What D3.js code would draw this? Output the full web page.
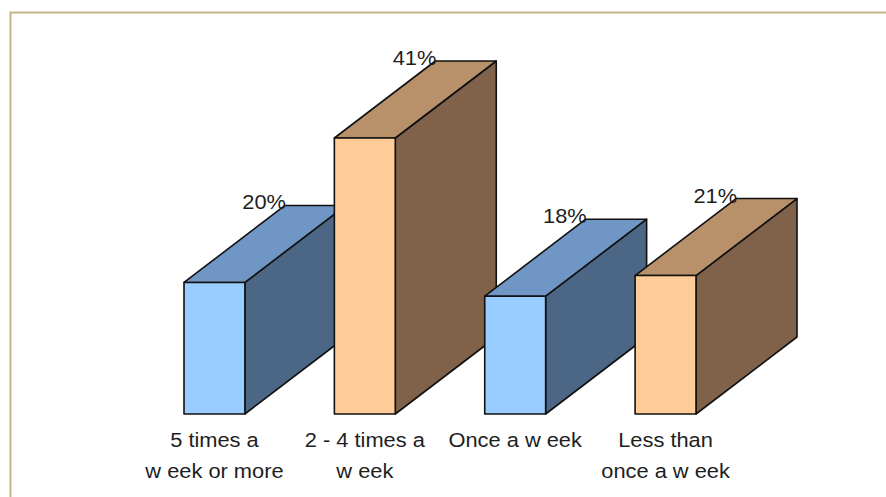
<!DOCTYPE html>
<html>
<head>
<meta charset="utf-8">
<script src="https://cdn.jsdelivr.net/npm/d3@7"></script>
<style>
  html, body { margin: 0; padding: 0; background: #ffffff; }
  svg { display: block; }
</style>
</head>
<body>
<svg id="chart" width="886" height="497"></svg>
<script>
// Survey: how often respondents do it
const categories = ["5 times a week or more", "2 - 4 times a week", "Once a week", "Less than once a week"];
const labelLines = [["5 times a", "w eek or more"], ["2 - 4 times a", "w eek"], ["Once a w eek"], ["Less than", "once a w eek"]];
const values = [20, 41, 18, 21];
const valueLabels = ["20%", "41%", "18%", "21%"];

// face colours per bar: front, top, side
const palettes = [
  { front: "#99ccff", top: "#6f96c4", side: "#4c6785" },
  { front: "#ffcc99", top: "#b8916a", side: "#806149" },
  { front: "#99ccff", top: "#6f96c4", side: "#4c6785" },
  { front: "#ffcc99", top: "#b8916a", side: "#806149" }
];

const svg = d3.select("#chart");

// frame
svg.append("path")
  .attr("d", "M10.5,497 L10.5,12.5 L886,12.5")
  .attr("fill", "none")
  .attr("stroke", "#c9b38a")
  .attr("stroke-width", 2);

const x = d3.scaleBand()
  .domain(categories)
  .range([184, 696])
  .paddingInner(0.595)
  .paddingOuter(0);

// the floor of the boxes sits slightly above the value axis origin
const floorY = 414;
const y = d3.scaleLinear()
  .domain([0, 41])
  .range([420, 138]);

// oblique depth of each box
const depthX = 101, depthY = -77;
const stretch = 1.12;

const bars = svg.append("g");

categories.forEach((c, i) => {
  const x0 = x(c), x1 = x(c) + x.bandwidth();
  const y0 = floorY, y1 = y(values[i]);
  const p = palettes[i];
  const g = bars.append("g");
  const line = d3.line();
  const face = (pts, fill) => g.append("path")
    .attr("d", line(pts) + "Z")
    .attr("fill", fill)
    .attr("stroke", "#111")
    .attr("stroke-width", 1.6)
    .attr("stroke-linejoin", "round");
  face([[x1, y0], [x1 + depthX, y0 + depthY], [x1 + depthX, y1 + depthY], [x1, y1]], p.side);
  face([[x0, y1], [x0 + depthX, y1 + depthY], [x1 + depthX, y1 + depthY], [x1, y1]], p.top);
  face([[x0, y0], [x0, y1], [x1, y1], [x1, y0]], p.front);
});

// value labels near the back-left corner of each top face
categories.forEach((c, i) => {
  const gx = x(c) + depthX + 1;
  const gy = y(values[i]) + depthY + 4;
  svg.append("g")
    .attr("transform", `translate(${gx},${gy}) scale(${stretch},1)`)
    .append("text")
    .attr("text-anchor", "end")
    .attr("font-family", "Liberation Sans, Arial, sans-serif")
    .attr("font-size", 19.5)
    .attr("fill", "#1e1e1e")
    .text(valueLabels[i]);
});

// category labels under the bars
categories.forEach((c, i) => {
  const cx = x(c) + x.bandwidth() / 2;
  labelLines[i].forEach((ln, j) => {
    svg.append("g")
      .attr("transform", `translate(${cx},${446.5 + j * 31}) scale(${stretch},1)`)
      .append("text")
      .attr("text-anchor", "middle")
      .attr("font-family", "Liberation Sans, Arial, sans-serif")
      .attr("font-size", 19.5)
      .attr("fill", "#1e1e1e")
      .text(ln);
  });
});
</script>
</body>
</html>
